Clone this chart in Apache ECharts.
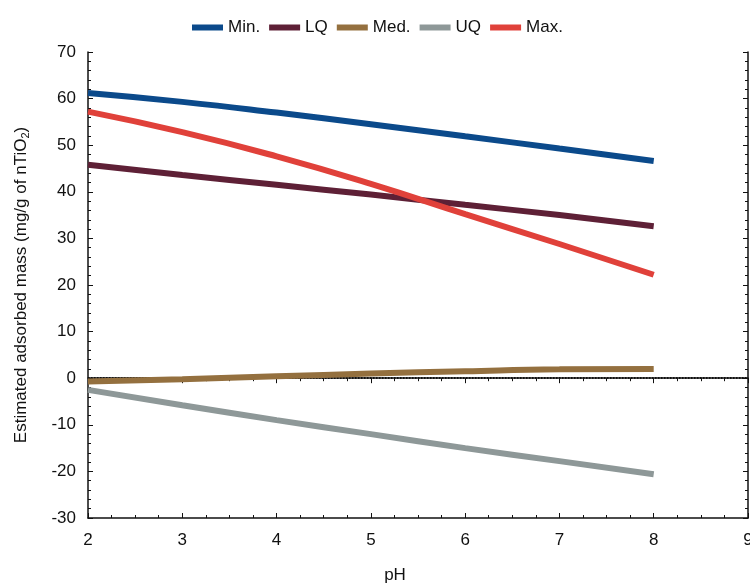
<!DOCTYPE html>
<html>
<head>
<meta charset="utf-8">
<script src="https://cdn.jsdelivr.net/npm/echarts@6/dist/echarts.min.js"></script>
<style>
  html, body { margin: 0; padding: 0; background: #fff; }
  #chart { width: 750px; height: 586px; }
</style>
</head>
<body>
<div id="chart"></div>
<script>
var phValues = [2, 3, 4, 5, 6, 7, 8];
var minVals = [61.2, 59.3, 57.0, 54.5, 51.9, 49.3, 46.6];
var lqVals = [45.8, 43.6, 41.5, 39.4, 37.2, 35.0, 32.6];
var medVals = [-0.7, -0.2, 0.4, 1.0, 1.5, 1.9, 2.0];
var uqVals = [-2.5, -5.8, -9.0, -12.0, -15.0, -17.8, -20.6];
var maxVals = [57.2, 52.8, 47.6, 41.7, 35.2, 28.8, 22.2];

var seriesNames = ['Min.', 'LQ', 'Med.', 'UQ', 'Max.'];
var seriesColors = ['#0b4a8b', '#5e2036', '#94703f', '#8e9898', '#e0413a'];
var seriesData = [minVals, lqVals, medVals, uqVals, maxVals];

function pairs(vals) {
  return phValues.map(function (p, i) { return [p, vals[i]]; });
}

var font = 'Liberation Sans, Arial, sans-serif';

var series = seriesNames.map(function (name, i) {
  return {
    name: name,
    type: 'line',
    data: pairs(seriesData[i]),
    smooth: true,
    symbol: 'none',
    color: seriesColors[i],
    lineStyle: { width: 6, color: seriesColors[i] },
    z: 3
  };
});
// dotted zero line
series[2].markLine = {
  silent: true,
  symbol: 'none',
  label: { show: false },
  lineStyle: { type: [1.5, 1.5], color: '#111', width: 2 },
  data: [{ yAxis: 0 }],
  z: 1
};

var chart = echarts.init(document.getElementById('chart'));
chart.setOption({
  animation: false,
  textStyle: { fontFamily: font },
  legend: {
    top: 14,
    left: 187,
    itemWidth: 31,
    itemHeight: 6,
    itemGap: 9,
    icon: 'rect',
    textStyle: { fontSize: 17, color: '#111', fontFamily: font },
    data: seriesNames
  },
  grid: { left: 88, right: 2, top: 52, bottom: 68, outerBoundsMode: 'none' },
  xAxis: [{
    type: 'value',
    min: 2, max: 9, interval: 1,
    name: 'pH',
    nameLocation: 'middle',
    nameGap: 49,
    nameTextStyle: { fontSize: 17, color: '#111', padding: [0, 46, 0, 0] },
    axisLine: { show: true, onZero: false, lineStyle: { color: '#111', width: 1.5 } },
    axisTick: { show: true, inside: true, length: 5, lineStyle: { color: '#111' } },
    minorTick: { show: true, splitNumber: 4, length: 3, lineStyle: { color: '#111' } },
    axisLabel: { fontSize: 17, color: '#111', margin: 14 },
    splitLine: { show: false }
  }, {
    type: 'value',
    position: 'top',
    min: 2, max: 9, interval: 1,
    axisLine: { show: true, lineStyle: { color: '#111', width: 1.5 } },
    axisTick: { show: true, inside: true, length: 5, lineStyle: { color: '#111' } },
    minorTick: { show: true, splitNumber: 4, length: 3, lineStyle: { color: '#111' } },
    axisLabel: { show: false },
    splitLine: { show: false }
  }],
  yAxis: [{
    type: 'value',
    min: -30, max: 70, interval: 10,
    name: 'Estimated adsorbed mass (mg/g of nTiO{sub|2})',
    nameLocation: 'middle',
    nameGap: 57,
    nameTextStyle: {
      fontSize: 17, color: '#111',
      rich: { sub: { fontSize: 11, verticalAlign: 'bottom', padding: [8, 0, 0, 0] } }
    },
    axisLine: { show: true, onZero: false, lineStyle: { color: '#111', width: 1.5 } },
    axisTick: { show: true, inside: true, length: 5, lineStyle: { color: '#111' } },
    minorTick: { show: true, splitNumber: 5, length: 3, lineStyle: { color: '#111' } },
    axisLabel: { fontSize: 17, color: '#111', margin: 12 },
    splitLine: { show: false }
  }, {
    type: 'value',
    position: 'right',
    min: -30, max: 70, interval: 10,
    axisLine: { show: true, lineStyle: { color: '#111', width: 1.5 } },
    axisTick: { show: true, inside: true, length: 5, lineStyle: { color: '#111' } },
    minorTick: { show: true, splitNumber: 5, length: 3, lineStyle: { color: '#111' } },
    axisLabel: { show: false },
    splitLine: { show: false }
  }],
  series: series
});
</script>
</body>
</html>
